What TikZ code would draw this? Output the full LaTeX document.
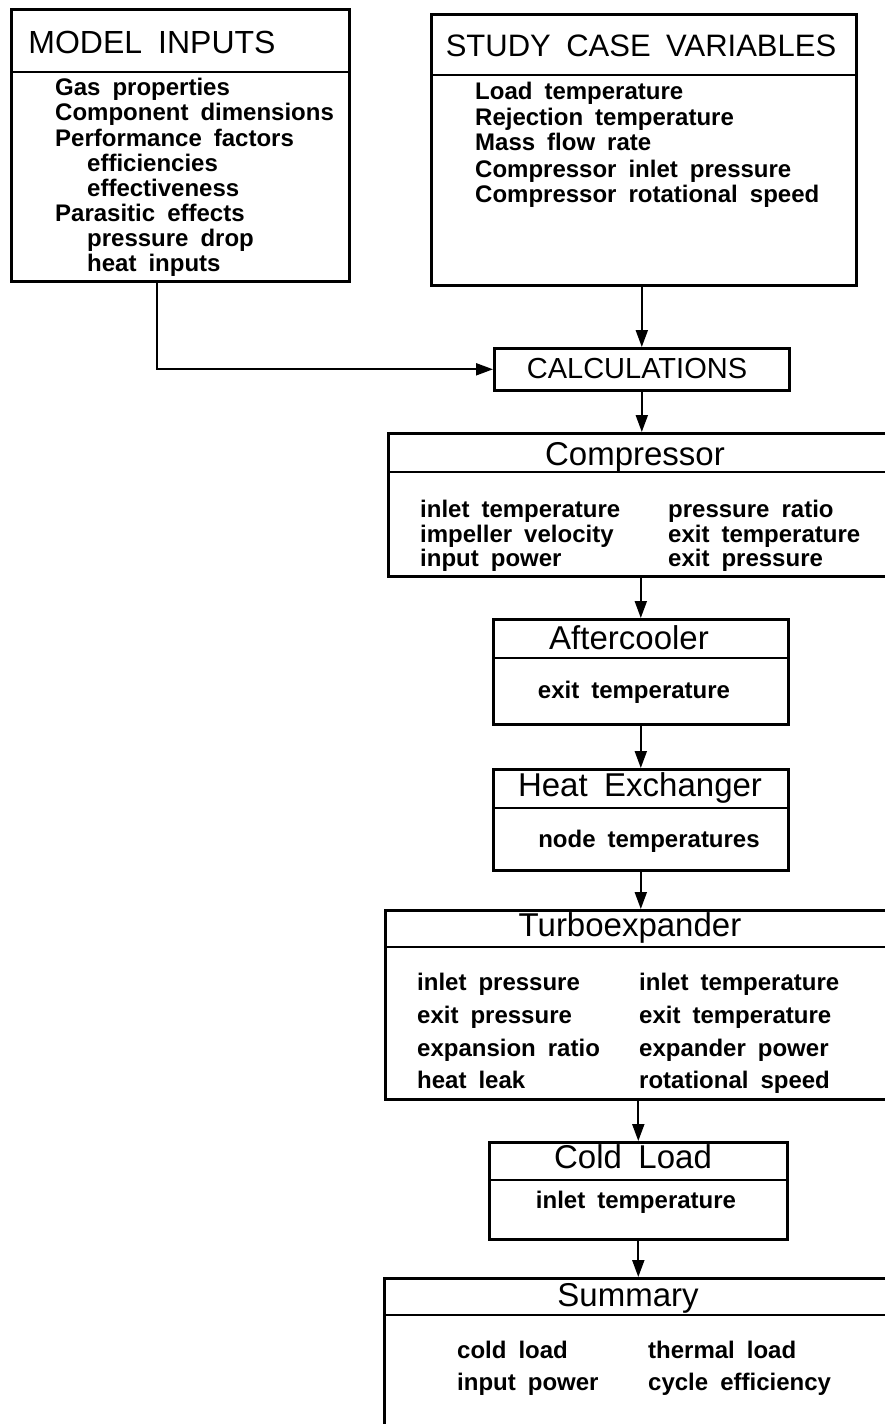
\documentclass[tikz,border=0pt]{standalone}
\usepackage{fontspec}
\setmainfont{Liberation Sans}[WordSpace=1.8]
\usetikzlibrary{arrows.meta,calc}

\begin{document}
\begin{tikzpicture}[
    x=1pt, y=-1pt,
    box/.style   = {rectangle, draw, line width=2.6pt, inner sep=0pt,
                    anchor=north west},
    sep/.style   = {line width=2.4pt},
    ttl/.style   = {font=\fontsize{32}{32}\selectfont, inner sep=0pt,
                    anchor=base},
    item/.style  = {font=\bfseries\fontsize{24}{24}\selectfont, inner sep=0pt,
                    anchor=base west},
    arr/.style   = {-{Triangle[length=17pt,width=12pt]}, line width=2pt},
]
\useasboundingbox (0,0) rectangle (885,1424);

% ─── Model inputs ────────────────────────────────────────────────────────
\node[box, minimum width=338pt, minimum height=272pt] (mi) at (10,8) {};
\draw[sep] ($(mi.north west)+(0,64)$) -- ($(mi.north east)+(0,64)$);
\node[ttl] (mi-t) at (152,53) {MODEL INPUTS};
\node[item] (mi-1) at (55,95)  {Gas properties};
\node[item] (mi-2) at (55,120) {Component dimensions};
\node[item] (mi-3) at (55,146) {Performance factors};
\node[item] (mi-4) at (87,171) {efficiencies};
\node[item] (mi-5) at (87,196) {effectiveness};
\node[item] (mi-6) at (55,221) {Parasitic effects};
\node[item] (mi-7) at (87,246) {pressure drop};
\node[item] (mi-8) at (87,271) {heat inputs};

% ─── Study case variables ────────────────────────────────────────────────
\node[box, minimum width=425pt, minimum height=271pt] (scv) at (430,13) {};
\draw[sep] ($(scv.north west)+(0,62)$) -- ($(scv.north east)+(0,62)$);
\node[ttl, font=\fontsize{31}{31}\selectfont] (scv-t) at (641,56) {STUDY CASE VARIABLES};
\node[item] (scv-1) at (475,99)  {Load temperature};
\node[item] (scv-2) at (475,125) {Rejection temperature};
\node[item] (scv-3) at (475,150) {Mass flow rate};
\node[item] (scv-4) at (475,177) {Compressor inlet pressure};
\node[item] (scv-5) at (475,202) {Compressor rotational speed};

% ─── Calculations ────────────────────────────────────────────────────────
\node[box, minimum width=295pt, minimum height=42pt] (calc) at (493,347) {};
\node[ttl, font=\fontsize{29}{29}\selectfont] (calc-t) at (637,378) {CALCULATIONS};

\coordinate (mi-out) at (157,280);
\draw[arr] (mi-out) |- (calc.west);
\draw[arr] (calc.north |- scv.south) -- (calc.north);

% ─── Compressor ──────────────────────────────────────────────────────────
\node[box, minimum width=510pt, minimum height=143pt] (comp) at (387,432) {};
\draw[sep] ($(comp.north west)+(0,40)$) -- ($(comp.north east)+(0,40)$);
\node[ttl, font=\fontsize{33}{33}\selectfont] (comp-t) at (635,465) {Compressor};
\node[item] (comp-1) at (420,517) {inlet temperature};
\node[item] (comp-2) at (420,542) {impeller velocity};
\node[item] (comp-3) at (420,566) {input power};
\node[item] (comp-4) at (668,517) {pressure ratio};
\node[item] (comp-5) at (668,542) {exit temperature};
\node[item] (comp-6) at (668,566) {exit pressure};
\draw[arr] (calc.south) -- (calc.south |- comp.north);

% ─── Aftercooler ─────────────────────────────────────────────────────────
\node[box, minimum width=295pt, minimum height=105pt] (aftc) at (492,618) {};
\draw[sep] ($(aftc.north west)+(0,40)$) -- ($(aftc.north east)+(0,40)$);
\node[ttl, font=\fontsize{33}{33}\selectfont] (aftc-t) at (629,649) {Aftercooler};
\node[item, anchor=base] (aftc-1) at (634,698) {exit temperature};
\draw[arr] (aftc.north |- comp.south) -- (aftc.north);

% ─── Heat exchanger ──────────────────────────────────────────────────────
\node[box, minimum width=295pt, minimum height=101pt] (hx) at (492,768) {};
\draw[sep] ($(hx.north west)+(0,40)$) -- ($(hx.north east)+(0,40)$);
\node[ttl, font=\fontsize{33}{33}\selectfont] (hx-t) at (640,796) {Heat Exchanger};
\node[item, anchor=base] (hx-1) at (649,847) {node temperatures};
\draw[arr] (aftc.south) -- (hx.north);

% ─── Turboexpander ───────────────────────────────────────────────────────
\node[box, minimum width=513pt, minimum height=189pt] (turb) at (384,909) {};
\draw[sep] ($(turb.north west)+(0,38)$) -- ($(turb.north east)+(0,38)$);
\node[ttl, font=\fontsize{33}{33}\selectfont] (turb-t) at (630,936) {Turboexpander};
\node[item] (turb-1) at (417,990)  {inlet pressure};
\node[item] (turb-2) at (417,1023) {exit pressure};
\node[item] (turb-3) at (417,1056) {expansion ratio};
\node[item] (turb-4) at (417,1088) {heat leak};
\node[item] (turb-5) at (639,990)  {inlet temperature};
\node[item] (turb-6) at (639,1023) {exit temperature};
\node[item] (turb-7) at (639,1056) {expander power};
\node[item] (turb-8) at (639,1088) {rotational speed};
\draw[arr] (hx.south) -- (hx.south |- turb.north);

% ─── Cold load ───────────────────────────────────────────────────────────
\node[box, minimum width=298pt, minimum height=97pt] (cold) at (488,1141) {};
\draw[sep] ($(cold.north west)+(0,39)$) -- ($(cold.north east)+(0,39)$);
\node[ttl, font=\fontsize{33}{33}\selectfont] (cold-t) at (633,1168) {Cold Load};
\node[item, anchor=base] (cold-1) at (636,1208) {inlet temperature};
\draw[arr] (cold.north |- turb.south) -- (cold.north);

% ─── Summary ─────────────────────────────────────────────────────────────
\node[box, minimum width=514pt, minimum height=180pt] (summ) at (383,1277) {};
\draw[sep] ($(summ.north west)+(0,38)$) -- ($(summ.north east)+(0,38)$);
\node[ttl, font=\fontsize{33}{33}\selectfont] (summ-t) at (628,1306) {Summary};
\node[item] (summ-1) at (457,1358) {cold load};
\node[item] (summ-2) at (457,1390) {input power};
\node[item] (summ-3) at (648,1358) {thermal load};
\node[item] (summ-4) at (648,1390) {cycle efficiency};
\draw[arr] (cold.south) -- (cold.south |- summ.north);

\end{tikzpicture}
\end{document}
